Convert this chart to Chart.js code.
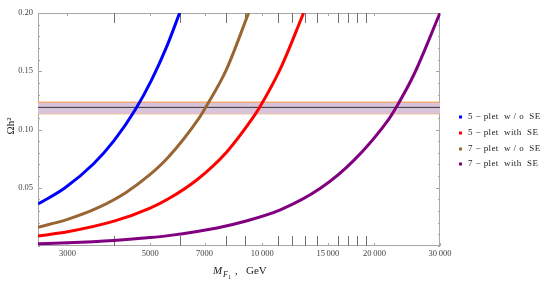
<!DOCTYPE html>
<html lang="en">
<head>
<meta charset="UTF-8">
<title>Relic density vs mass</title>
<script src="https://cdn.jsdelivr.net/npm/chart.js"></script>
<style>
    html, body {
        margin: 0;
        padding: 0;
        background: #fff;
    }
</style>
</head>
<body>

<canvas id="omegaChart" width="545" height="281"></canvas>

<script>
// values (mass in GeV, relic density)
var seriesLabels = ['5 \u2212 plet  w / o  SE', '5 \u2212 plet  with  SE', '7 \u2212 plet  w / o  SE', '7 \u2212 plet  with  SE'];
var seriesColors = ['#0000ff', '#ff0000', '#996633', '#800080'];

var blueMass = [2500, 2950, 3520, 4000, 4560, 5050, 5550, 6000];
var blueOmega = [0.036, 0.0498, 0.0704, 0.0904, 0.1169, 0.1428, 0.1718, 0.2];

var redMass = [2500, 3000, 4000, 5000, 5600, 6680, 8040, 9480, 9840, 11180, 12910];
var redOmega = [0.0086, 0.0122, 0.0213, 0.0325, 0.0405, 0.0569, 0.081, 0.111, 0.119, 0.152, 0.2];

var brownMass = [2500, 3000, 3600, 4300, 5000, 5600, 6750, 7070, 8000, 9190];
var brownOmega = [0.0161, 0.0229, 0.0325, 0.0458, 0.0614, 0.0764, 0.1094, 0.1198, 0.151, 0.2];

var purpleMass = [2500, 3000, 4000, 5000, 5600, 7560, 9000, 11180, 14320, 17610, 21870, 22930, 25520, 30000];
var purpleOmega = [0.002, 0.0028, 0.0048, 0.0072, 0.0089, 0.0155, 0.0213, 0.031, 0.0495, 0.0735, 0.109, 0.1195, 0.147, 0.2];

// observed band
var bandMass = [2500, 30000];
var bandLow = [0.1135, 0.1135];
var bandHigh = [0.1235, 0.1235];
var bandCenter = [0.119, 0.119];

// axis ticks
var xLabelTicks = [3000, 5000, 7000, 10000, 15000, 20000, 30000];
var xLongTicks = [4000, 6000, 8000, 9000, 11000, 12000, 13000, 14000, 16000, 17000, 18000, 19000];

function toPoints(xs, ys) {
    return xs.map((x, i) => ({ x: x, y: ys[i] }));
}

function fmtMass(v) {
    var s = String(v);
    if (v >= 10000) s = s.slice(0, s.length - 3) + '\u2009' + s.slice(-3);
    return s;
}

var curveData = [
    toPoints(blueMass, blueOmega),
    toPoints(redMass, redOmega),
    toPoints(brownMass, brownOmega),
    toPoints(purpleMass, purpleOmega)
];

var datasets = curveData.map((d, i) => ({
    label: seriesLabels[i],
    data: d,
    borderColor: seriesColors[i],
    backgroundColor: seriesColors[i],
    borderWidth: 3,
    pointRadius: 0,
    cubicInterpolationMode: 'monotone',
    fill: false,
    order: 1
}));

datasets.push({
    label: 'band high',
    data: toPoints(bandMass, bandHigh),
    borderColor: '#ff9a3c',
    borderWidth: 1,
    pointRadius: 0,
    fill: '+1',
    backgroundColor: '#d8c3da',
    order: 5,
    isBand: true
});
datasets.push({
    label: 'band low',
    data: toPoints(bandMass, bandLow),
    borderColor: '#ff9a3c',
    borderWidth: 1,
    pointRadius: 0,
    fill: false,
    order: 5,
    isBand: true
});
datasets.push({
    label: 'center',
    data: toPoints(bandMass, bandCenter),
    borderColor: '#333333',
    borderWidth: 1,
    pointRadius: 0,
    fill: false,
    order: 4,
    isBand: true
});

var serif = '"Liberation Serif", "DejaVu Serif", serif';

// Mathematica-like frame with inward ticks
var frameTicks = {
    id: 'frameTicks',
    beforeDatasetsDraw(chart) {
        var ctx = chart.ctx;
        var a = chart.chartArea;
        var x = chart.scales.x;
        var y = chart.scales.y;
        ctx.save();
        ctx.lineWidth = 1;
        ctx.strokeStyle = '#a8a8a8';
        ctx.strokeRect(Math.round(a.left) + 0.5, Math.round(a.top) + 0.5,
            Math.round(a.right - a.left) - 1, Math.round(a.bottom - a.top) - 1);

        ctx.beginPath();
        x.ticks.forEach(t => {
            var px = Math.round(x.getPixelForValue(t.value)) + 0.5;
            ctx.moveTo(px, a.bottom); ctx.lineTo(px, a.bottom - 3);
            ctx.moveTo(px, a.top); ctx.lineTo(px, a.top + 3);
        });
        y.ticks.forEach(t => {
            var py = Math.round(y.getPixelForValue(t.value)) + 0.5;
            var len = t.label ? 4 : 2;
            ctx.moveTo(a.left, py); ctx.lineTo(a.left + len, py);
            ctx.moveTo(a.right, py); ctx.lineTo(a.right - len, py);
        });
        ctx.stroke();

        ctx.strokeStyle = '#707070';
        ctx.beginPath();
        xLongTicks.forEach(v => {
            var px = Math.round(x.getPixelForValue(v)) + 0.5;
            ctx.moveTo(px, a.bottom); ctx.lineTo(px, a.bottom - 10);
            ctx.moveTo(px, a.top); ctx.lineTo(px, a.top + 10);
        });
        ctx.stroke();
        ctx.restore();
    },
    afterDraw(chart) {
        var ctx = chart.ctx;
        ctx.save();
        ctx.fillStyle = '#222';

        // y title
        ctx.save();
        ctx.translate(11, 126);
        ctx.rotate(-Math.PI / 2);
        ctx.font = '11px ' + serif;
        ctx.textAlign = 'center';
        ctx.textBaseline = 'middle';
        ctx.fillText('\u03A9h\u00B2', 0, 0);
        ctx.restore();

        // x title M_{F_1}, GeV
        ctx.textBaseline = 'alphabetic';
        ctx.textAlign = 'left';
        ctx.font = 'italic 11px ' + serif;
        ctx.fillText('M', 213, 274);
        ctx.font = 'italic 8px ' + serif;
        ctx.fillText('F', 223, 277);
        ctx.font = '6px ' + serif;
        ctx.fillText('1', 228, 279);
        ctx.font = '11px ' + serif;
        ctx.fillText(',', 235, 274);
        ctx.fillText('GeV', 246, 274);

        // legend
        var items = chart.data.datasets.filter(d => !d.isBand);
        var legendY = [117, 133, 149, 164];
        ctx.font = '9px ' + serif;
        ctx.letterSpacing = '0.4px';
        ctx.textBaseline = 'middle';
        items.forEach((d, i) => {
            ctx.fillStyle = d.borderColor;
            ctx.fillRect(459, legendY[i] - 1.5, 3, 3);
            ctx.fillStyle = '#222';
            ctx.fillText(d.label, 468, legendY[i]);
        });
        ctx.restore();
    }
};

var ctxOmega = document.getElementById('omegaChart').getContext('2d');
var omegaChart = new Chart(ctxOmega, {
    type: 'line',
    data: { datasets: datasets },
    options: {
        responsive: false,
        animation: false,
        layout: { padding: { top: 13, right: 105, left: 0, bottom: 0 } },
        scales: {
            x: {
                type: 'logarithmic',
                min: 2500,
                max: 30000,
                afterBuildTicks: s => { s.ticks = xLabelTicks.map(v => ({ value: v })); },
                afterFit: s => { s.height = 35; },
                grid: { display: false, drawTicks: false },
                border: { display: false },
                ticks: {
                    autoSkip: false,
                    maxRotation: 0,
                    padding: 3,
                    color: '#444',
                    font: { family: serif, size: 8.5 },
                    callback: v => fmtMass(v)
                }
            },
            y: {
                min: 0,
                max: 0.2,
                afterFit: s => { s.width = 38; },
                grid: { display: false, drawTicks: false },
                border: { display: false },
                ticks: {
                    stepSize: 0.01,
                    autoSkip: false,
                    padding: 5,
                    color: '#444',
                    font: { family: serif, size: 8.5 },
                    callback: v => {
                        var k = Math.round(v * 100);
                        return (k > 0 && k % 5 === 0) ? (k / 100).toFixed(2) : '';
                    }
                }
            }
        },
        plugins: {
            legend: { display: false },
            tooltip: { enabled: false }
        }
    },
    plugins: [frameTicks]
});
</script>

</body>
</html>
